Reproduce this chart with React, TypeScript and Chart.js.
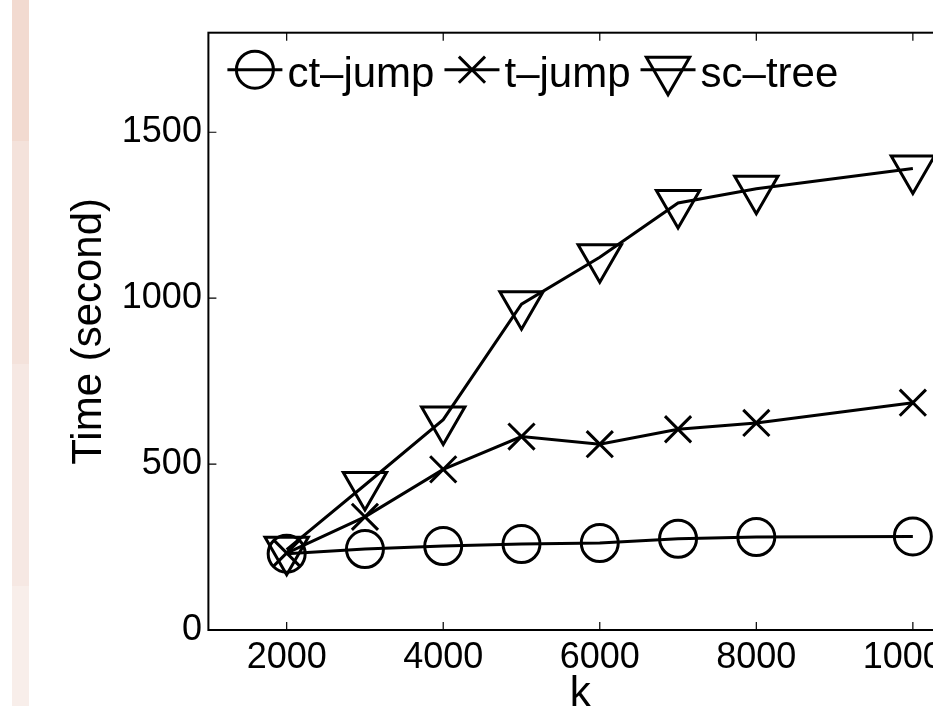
import React, { useEffect, useRef } from 'react';
import { Chart, registerables } from 'chart.js';

Chart.register(...registerables);

// ---- data ----
const kValues = [2000, 3000, 4000, 5000, 6000, 7000, 8000, 10000];
const ctJump = [230, 244, 253, 259, 262, 275, 280, 282];
const tJump = [232, 341, 484, 583, 560, 605, 624, 685];
const scTree = [242, 437, 634, 982, 1123, 1287, 1330, 1391];
const seriesNames = ['ct\u2013jump', 't\u2013jump', 'sc\u2013tree'];
const xTicks = [2000, 4000, 6000, 8000, 10000];
const yTicks = [0, 500, 1000, 1500];
const xTitle = 'k';
const yTitle = 'Time (second)';

const FONT = "'Liberation Sans', Arial, Helvetica, sans-serif";
const CANVAS_W = 980;
const CANVAS_H = 740;

function drawMarker(ctx: CanvasRenderingContext2D, style: string, x: number, y: number, r: number) {
  ctx.beginPath();
  if (style === 'circle') {
    ctx.arc(x, y, r, 0, Math.PI * 2);
  } else if (style === 'crossRot') {
    const o = r * Math.cos(Math.PI / 4);
    ctx.moveTo(x - o, y - o);
    ctx.lineTo(x + o, y + o);
    ctx.moveTo(x + o, y - o);
    ctx.lineTo(x - o, y + o);
  } else if (style === 'triangle') {
    let rad = Math.PI;
    ctx.moveTo(x + Math.sin(rad) * r, y - Math.cos(rad) * r);
    rad += (2 * Math.PI) / 3;
    ctx.lineTo(x + Math.sin(rad) * r, y - Math.cos(rad) * r);
    rad += (2 * Math.PI) / 3;
    ctx.lineTo(x + Math.sin(rad) * r, y - Math.cos(rad) * r);
    ctx.closePath();
  }
  ctx.stroke();
}

const framePlugin = {
  id: 'matlabFrame',
  beforeDatasetsDraw(chart: any) {
    const { ctx, chartArea: a, scales } = chart;
    ctx.save();
    ctx.strokeStyle = '#000';
    ctx.lineWidth = 2;
    ctx.strokeRect(a.left, a.top, a.right - a.left, a.bottom - a.top);
    ctx.lineWidth = 1.2;
    ctx.beginPath();
    const tl = 8;
    scales.x.ticks.forEach((t: any) => {
      const px = scales.x.getPixelForValue(t.value);
      ctx.moveTo(px, a.bottom);
      ctx.lineTo(px, a.bottom - tl);
      ctx.moveTo(px, a.top);
      ctx.lineTo(px, a.top + tl);
    });
    scales.y.ticks.forEach((t: any) => {
      const py = scales.y.getPixelForValue(t.value);
      ctx.moveTo(a.left, py);
      ctx.lineTo(a.left + tl, py);
      ctx.moveTo(a.right, py);
      ctx.lineTo(a.right - tl, py);
    });
    ctx.stroke();
    ctx.restore();
  },
};

const legendPlugin = {
  id: 'matlabLegend',
  afterDraw(chart: any) {
    const { ctx, chartArea: a } = chart;
    ctx.save();
    ctx.font = `42px ${FONT}`;
    ctx.fillStyle = '#000';
    ctx.strokeStyle = '#000';
    ctx.lineWidth = 3;
    ctx.textBaseline = 'alphabetic';
    ctx.textAlign = 'left';
    let x = a.left + 19;
    const cy = a.top + 37;
    const baseline = a.top + 54.5;
    chart.data.datasets.forEach((ds: any) => {
      const lineLen = 55;
      ctx.beginPath();
      ctx.moveTo(x, cy);
      ctx.lineTo(x + lineLen, cy);
      ctx.stroke();
      drawMarker(ctx, ds.pointStyle, x + lineLen / 2, cy, ds.pointRadius);
      x += lineLen + 5;
      ctx.fillText(ds.label, x, baseline);
      x += ctx.measureText(ds.label).width + 10;
    });
    ctx.restore();
  },
};

export default function App() {
  const ref = useRef<HTMLCanvasElement | null>(null);

  useEffect(() => {
    if (!ref.current) return;
    Chart.defaults.font.family = FONT;
    Chart.defaults.color = '#000';
    const mk = (vals: number[]) => kValues.map((k, i) => ({ x: k, y: vals[i] }));
    const common = {
      borderColor: '#000',
      borderWidth: 3,
      pointBorderColor: '#000',
      pointBackgroundColor: 'rgba(0,0,0,0)',
      pointBorderWidth: 3,
      backgroundColor: 'rgba(0,0,0,0)',
      fill: false,
      tension: 0,
    };
    const chart = new Chart(ref.current, {
      type: 'line',
      data: {
        datasets: [
          { ...common, label: seriesNames[0], data: mk(ctJump), pointStyle: 'circle', pointRadius: 18.5 },
          { ...common, label: seriesNames[1], data: mk(tJump), pointStyle: 'crossRot', pointRadius: 18.5 },
          { ...common, label: seriesNames[2], data: mk(scTree), pointStyle: 'triangle', pointRadius: 25, pointRotation: 180 },
        ],
      },
      options: {
        animation: false,
        responsive: false,
        maintainAspectRatio: false,
        events: [],
        layout: { padding: { left: 0, top: 32.7, right: 28, bottom: CANVAS_H - 630 - 90 } },
        plugins: { legend: { display: false }, tooltip: { enabled: false }, title: { display: false } },
        scales: {
          x: {
            type: 'linear',
            min: 1000,
            max: 10500,
            grid: { display: false, drawTicks: false },
            border: { display: false },
            afterBuildTicks: (s: any) => { s.ticks = xTicks.map((v) => ({ value: v })); },
            afterFit: (s: any) => { s.height = 90; s.paddingLeft = 0; s.paddingRight = 0; },
            ticks: { font: { size: 36 }, color: '#000', padding: 6, maxRotation: 0, autoSkip: false, callback: (v: any) => String(v) },
            title: { display: true, text: xTitle, font: { size: 42 }, color: '#000', padding: { top: 0, bottom: 0 } },
          },
          y: {
            type: 'linear',
            min: 0,
            max: 1800,
            grid: { display: false, drawTicks: false },
            border: { display: false },
            afterBuildTicks: (s: any) => { s.ticks = yTicks.map((v) => ({ value: v })); },
            afterFit: (s: any) => { s.width = 208.4; s.paddingTop = 0; s.paddingBottom = 0; },
            ticks: { font: { size: 36 }, color: '#000', padding: 6.5, autoSkip: false, callback: (v: any) => String(v) },
            title: { display: true, text: yTitle, font: { size: 42 }, color: '#000', padding: { top: 64, bottom: 0 } },
          },
        },
      },
      plugins: [framePlugin, legendPlugin],
    } as any);
    return () => chart.destroy();
  }, []);

  const strip: React.CSSProperties = { position: 'absolute', left: 12, width: 17 };
  return (
    <div style={{ position: 'fixed', left: 0, top: 0, width: 933, height: 706, overflow: 'hidden', background: '#fff' }}>
      <div style={{ ...strip, top: 0, height: 141, background: 'rgb(242,218,208)' }} />
      <div style={{ ...strip, top: 141, height: 223, background: 'rgb(244,226,219)' }} />
      <div style={{ ...strip, top: 364, height: 222, background: 'rgb(246,232,227)' }} />
      <div style={{ ...strip, top: 586, height: 120, background: 'rgb(248,238,234)' }} />
      <canvas
        ref={ref}
        width={CANVAS_W}
        height={CANVAS_H}
        style={{ position: 'absolute', left: 0, top: 0, width: CANVAS_W, height: CANVAS_H }}
      />
    </div>
  );
}
